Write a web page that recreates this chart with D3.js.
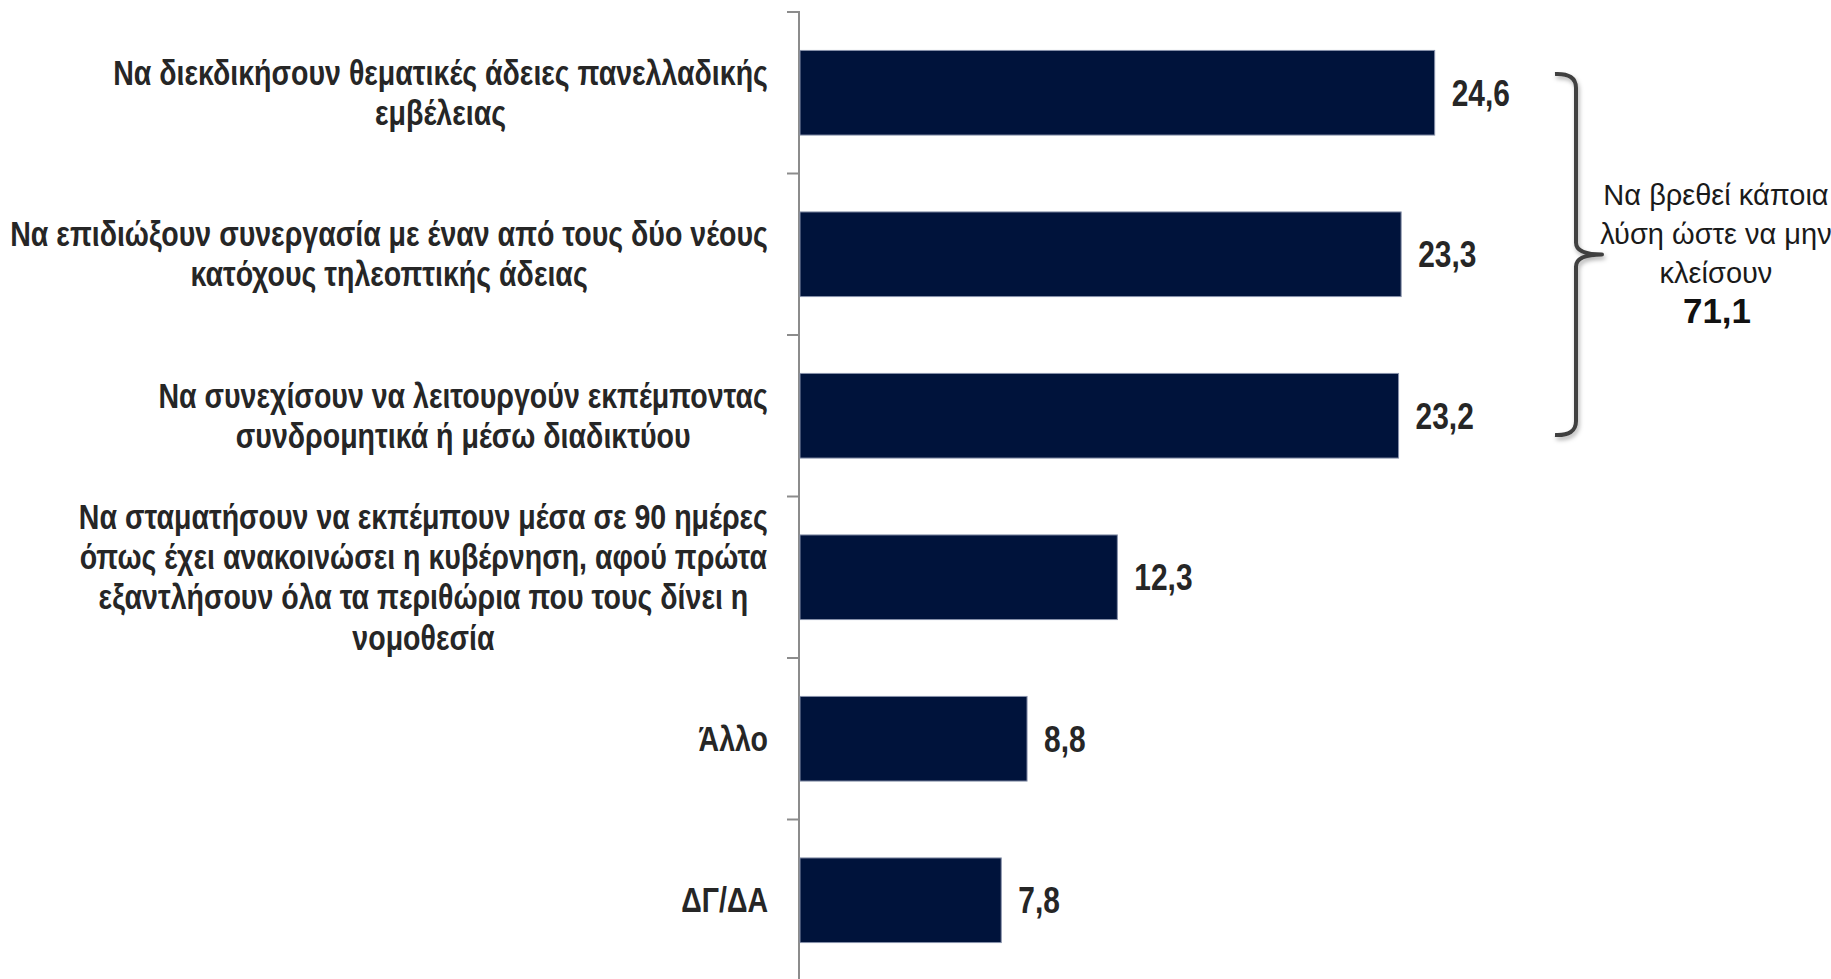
<!DOCTYPE html>
<html>
<head>
<meta charset="utf-8">
<script src="https://cdn.jsdelivr.net/npm/d3@7"></script>
<style>
  html, body { margin: 0; padding: 0; background: #fff; }
  svg { display: block; }
</style>
</head>
<body>
<svg id="chart" width="1831" height="979"></svg>
<script>
// ---------- data ----------
const categories = [
  "Να διεκδικήσουν θεματικές άδειες πανελλαδικής\nεμβέλειας",
  "Να επιδιώξουν συνεργασία με έναν από τους δύο νέους\nκατόχους τηλεοπτικής άδειας",
  "Να συνεχίσουν να λειτουργούν εκπέμποντας\nσυνδρομητικά ή μέσω διαδικτύου",
  "Να σταματήσουν να εκπέμπουν μέσα σε 90 ημέρες\nόπως έχει ανακοινώσει η κυβέρνηση, αφού πρώτα\nεξαντλήσουν όλα τα περιθώρια που τους δίνει η\nνομοθεσία",
  "Άλλο",
  "ΔΓ/ΔΑ"
];
const values = [24.6, 23.3, 23.2, 12.3, 8.8, 7.8];
const valueLabels = ["24,6", "23,3", "23,2", "12,3", "8,8", "7,8"];
const annotationLines = ["Να βρεθεί κάποια", "λύση ώστε να μην", "κλείσουν"];
const annotationTotal = "71,1";

(function () {
// ---------- font detection ----------
function hasFont(name) {
  const c = document.createElement("canvas").getContext("2d");
  const s = "Να διεκδικήσουν abcdefg 0123";
  c.font = `32px monospace`; const a = c.measureText(s).width;
  c.font = `32px "${name}", monospace`; const b = c.measureText(s).width;
  return Math.abs(a - b) > 0.5;
}
const narrowOK = hasFont("Liberation Sans Narrow");
const NARROW = narrowOK ? '"Liberation Sans Narrow", "Arial Narrow", sans-serif' : '"Liberation Sans", Arial, sans-serif';
const narrowScale = narrowOK ? 1 : 0.82;

// ---------- scales ----------
const svg = d3.select("#chart");
const x = d3.scaleLinear().domain([0, 30]).range([800, 1574]);
const y = d3.scaleBand().domain(d3.range(categories.length)).range([12, 981]).padding(0);
const barH = y.bandwidth() * 0.524;

// axis line + boundary ticks
const axisG = svg.append("g");
axisG.append("line")
  .attr("x1", x(0) - 1).attr("x2", x(0) - 1)
  .attr("y1", y.range()[0]).attr("y2", y.range()[1])
  .attr("stroke", "#8c8c8c").attr("stroke-width", 2);
const boundaries = d3.range(categories.length + 1).map(i => y.range()[0] + i * y.step());
axisG.selectAll("line.tick").data(boundaries).join("line")
  .attr("class", "tick")
  .attr("x1", x(0) - 13).attr("x2", x(0))
  .attr("y1", d => d).attr("y2", d => d)
  .attr("stroke", "#8c8c8c").attr("stroke-width", 2);

// bars
svg.append("g").selectAll("rect").data(values).join("rect")
  .attr("x", x(0))
  .attr("y", (d, i) => y(i) + (y.bandwidth() - barH) / 2)
  .attr("width", d => x(d) - x(0))
  .attr("height", barH)
  .attr("fill", "#00133b")
  .attr("stroke", "#8791aa")
  .attr("stroke-width", 1);

// value labels
svg.append("g").selectAll("text").data(values).join("text")
  .attr("transform", (d, i) => `translate(${x(d) + 17},${y(i) + y.bandwidth() / 2 + 13}) scale(${narrowScale},1)`)
  .attr("font-family", NARROW)
  .attr("font-weight", "bold")
  .attr("font-size", 36.5)
  .attr("fill", "#262626")
  .text((d, i) => valueLabels[i]);

// category labels (right edge at 768, lines centered within block)
const labelG = svg.append("g");
const lineH = 40.5;
categories.forEach((cat, i) => {
  const lines = cat.split("\n");
  const g = labelG.append("g");
  const texts = lines.map((ln, j) => g.append("text")
    .attr("font-family", NARROW)
    .attr("font-weight", "bold")
    .attr("font-size", 34.8)
    .attr("fill", "#262626")
    .attr("text-anchor", "middle")
    .attr("x", 0)
    .attr("y", (j - (lines.length - 1) / 2) * lineH + 12)
    .text(ln));
  const w = d3.max(texts, t => t.node().getComputedTextLength()) * narrowScale;
  const cx = 768 - w / 2;
  g.attr("transform", `translate(${cx},${y(i) + y.bandwidth() / 2}) scale(${narrowScale},1)`);
});

// brace with shadow
const defs = svg.append("defs");
const f = defs.append("filter").attr("id", "sh").attr("x", "-50%").attr("y", "-10%").attr("width", "200%").attr("height", "120%");
f.append("feDropShadow").attr("dx", 1.5).attr("dy", 3).attr("stdDeviation", 2)
  .attr("flood-color", "#000").attr("flood-opacity", 0.3);

const bTop = 74, bBot = 435, bMid = (bTop + bBot) / 2, bx = 1576, bLeft = 1555, bTip = 1602;
const p = d3.path();
p.moveTo(bLeft, bTop);
p.quadraticCurveTo(bx, bTop - 1, bx, bTop + 14);
p.lineTo(bx, bMid - 12);
p.quadraticCurveTo(bx, bMid, bTip, bMid);
p.quadraticCurveTo(bx, bMid, bx, bMid + 12);
p.lineTo(bx, bBot - 14);
p.quadraticCurveTo(bx, bBot + 1, bLeft, bBot);
svg.append("path")
  .attr("d", p.toString())
  .attr("fill", "none")
  .attr("stroke", "#404040")
  .attr("stroke-width", 4)
  .attr("stroke-linejoin", "round")
  .attr("filter", "url(#sh)");

// annotation
const ann = svg.append("g").attr("text-anchor", "middle");
const annY = [205, 244, 283];
annotationLines.forEach((t, j) => {
  ann.append("text")
    .attr("x", 1716).attr("y", annY[j])
    .attr("font-family", '"Liberation Sans", Arial, sans-serif')
    .attr("font-size", 29)
    .attr("fill", "#1a1a1a")
    .text(t);
});
ann.append("text")
  .attr("x", 1717).attr("y", 323)
  .attr("font-family", '"Liberation Sans", Arial, sans-serif')
  .attr("font-weight", "bold")
  .attr("font-size", 35)
  .attr("fill", "#111")
  .text(annotationTotal);
})();
</script>
</body>
</html>
